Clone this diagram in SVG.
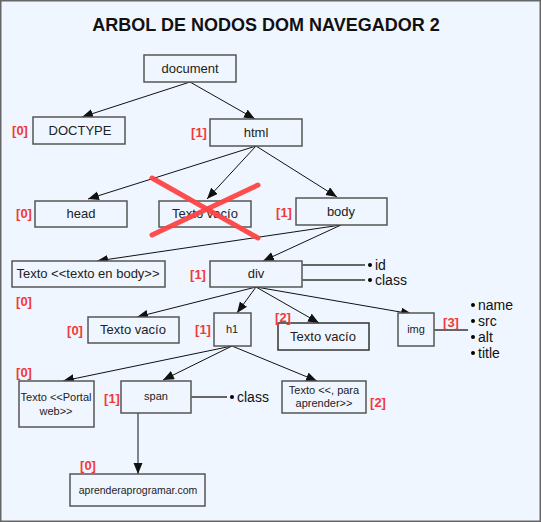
<svg xmlns="http://www.w3.org/2000/svg" width="541" height="522" viewBox="0 0 541 522">
<style>
.box{fill:#f0f6ff;stroke:#555;stroke-width:1.5}
.t{font-family:"Liberation Sans",Arial,sans-serif;font-size:13px;fill:#222;text-anchor:middle}
.s{font-size:11px}
.idx{font-family:"Liberation Sans",Arial,sans-serif;font-size:13px;font-weight:bold;fill:#f03a3a;text-anchor:middle}
.attr{font-family:"Liberation Sans",Arial,sans-serif;font-size:14px;fill:#111}
.conn line{stroke:#111;stroke-width:1;marker-end:url(#ah)}
.al{stroke:#666;stroke-width:2}
</style>
<defs>
<marker id="ah" markerUnits="userSpaceOnUse" markerWidth="12" markerHeight="10" refX="11" refY="4.5" orient="auto"><path d="M0,0 L11,4.5 L0,9 Z" fill="#111"/></marker>
</defs>
<rect x="0.5" y="0.5" width="540" height="521" fill="#f0f6ff" stroke="#666" stroke-width="2"/>
<text x="266" y="31" font-family="Liberation Sans,Arial,sans-serif" font-size="18" font-weight="bold" text-anchor="middle" fill="#111">ARBOL DE NODOS DOM NAVEGADOR 2</text>

<g id="connectors" class="conn">
<line x1="190" y1="82" x2="82" y2="117"/>
<line x1="190" y1="82" x2="255" y2="119"/>
<line x1="256" y1="146" x2="88" y2="199"/>
<line x1="256" y1="146" x2="207" y2="199"/>
<line x1="256" y1="146" x2="337" y2="197"/>
<line x1="341" y1="225" x2="97" y2="261"/>
<line x1="341" y1="225" x2="263" y2="261"/>
<line x1="256" y1="287" x2="137" y2="317"/>
<line x1="256" y1="287" x2="237" y2="313"/>
<line x1="256" y1="287" x2="319" y2="323"/>
<line x1="256" y1="287" x2="412" y2="314"/>
<line x1="232" y1="346" x2="63" y2="381"/>
<line x1="232" y1="346" x2="163" y2="380"/>
<line x1="232" y1="346" x2="317" y2="381"/>
<line x1="138" y1="413" x2="138" y2="474"/>
</g>

<g id="document"><rect class="box" x="144" y="55" width="92" height="27"/><text class="t" x="190" y="73">document</text></g>
<g id="doctype"><rect class="box" x="33" y="117" width="92" height="27"/><text class="t" x="80" y="135">DOCTYPE</text><text class="idx" x="20" y="135">[0]</text></g>
<g id="html"><rect class="box" x="210" y="119" width="92" height="27"/><text class="t" x="256" y="137">html</text><text class="idx" x="199" y="137">[1]</text></g>
<g id="head"><rect class="box" x="35" y="201" width="92" height="26"/><text class="t" x="81" y="218">head</text><text class="idx" x="24" y="218">[0]</text></g>
<g id="texto-vacio-html"><rect class="box" x="159" y="201" width="92" height="26"/><text class="t" x="205" y="218">Texto vacío</text>
<line x1="152" y1="178" x2="258" y2="238" stroke="#ff4444" stroke-width="5" stroke-linecap="round" opacity="0.95"/>
<line x1="258" y1="185" x2="152" y2="235" stroke="#ff4444" stroke-width="5" stroke-linecap="round" opacity="0.95"/></g>
<g id="body"><rect class="box" x="296" y="198" width="91" height="27"/><text class="t" x="341" y="216">body</text><text class="idx" x="284" y="217">[1]</text></g>
<g id="texto-body"><rect class="box" x="12" y="261" width="153" height="26"/><text class="t" x="88" y="278">Texto &lt;&lt;texto en body&gt;&gt;</text><text class="idx" x="24" y="306">[0]</text></g>
<g id="div"><rect class="box" x="210" y="261" width="92" height="26"/><text class="t" x="256" y="278">div</text><text class="idx" x="198" y="279">[1]</text>
<line class="al" x1="302" y1="265" x2="365" y2="265"/><line class="al" x1="302" y1="280" x2="365" y2="280"/>
<circle cx="370" cy="265" r="2"/><circle cx="370" cy="280" r="2"/>
<text class="attr" x="375" y="270">id</text><text class="attr" x="375" y="285">class</text></g>
<g id="texto-vacio-0"><rect class="box" x="88" y="317" width="91" height="26"/><text class="t" x="133" y="334">Texto vacío</text><text class="idx" x="75" y="335">[0]</text></g>
<g id="h1"><rect class="box" x="214" y="313" width="37" height="33"/><text class="t s" x="232" y="333">h1</text><text class="idx" x="203" y="334">[1]</text></g>
<g id="texto-vacio-2"><rect class="box" x="278" y="323" width="91" height="27" style="stroke:#333"/><text class="t" x="323" y="341">Texto vacío</text><text class="idx" x="283" y="322">[2]</text></g>
<g id="img"><rect class="box" x="398" y="313" width="36" height="33"/><text class="t s" x="416" y="333">img</text><text class="idx" x="451" y="327">[3]</text>
<line class="al" x1="434" y1="330" x2="468" y2="330"/>
<circle cx="473" cy="305" r="2"/><circle cx="473" cy="321" r="2"/><circle cx="473" cy="337" r="2"/><circle cx="473" cy="353" r="2"/>
<text class="attr" x="478" y="310">name</text><text class="attr" x="478" y="326">src</text><text class="attr" x="478" y="342">alt</text><text class="attr" x="478" y="358">title</text></g>
<g id="texto-portal"><rect class="box" x="19" y="381" width="75" height="46"/><text class="t s" x="56" y="401">Texto &lt;&lt;Portal</text><text class="t s" x="56" y="415">web&gt;&gt;</text><text class="idx" x="24" y="377">[0]</text></g>
<g id="span"><rect class="box" x="121" y="381" width="70" height="32"/><text class="t s" x="156" y="400">span</text><text class="idx" x="112" y="403">[1]</text>
<line class="al" x1="191" y1="397" x2="227" y2="397"/><circle cx="232" cy="397" r="2"/><text class="attr" x="237" y="402">class</text></g>
<g id="texto-aprender"><rect class="box" x="282" y="381" width="84" height="32"/><text class="t s" x="324" y="394">Texto &lt;&lt;, para</text><text class="t s" x="324" y="407">aprender&gt;&gt;</text><text class="idx" x="378" y="407">[2]</text></g>
<g id="aprenderaprogramar"><rect class="box" x="70" y="474" width="135" height="32"/><text class="t" x="138" y="494" style="font-size:10.5px">aprenderaprogramar.com</text><text class="idx" x="88" y="470">[0]</text></g>
</svg>
